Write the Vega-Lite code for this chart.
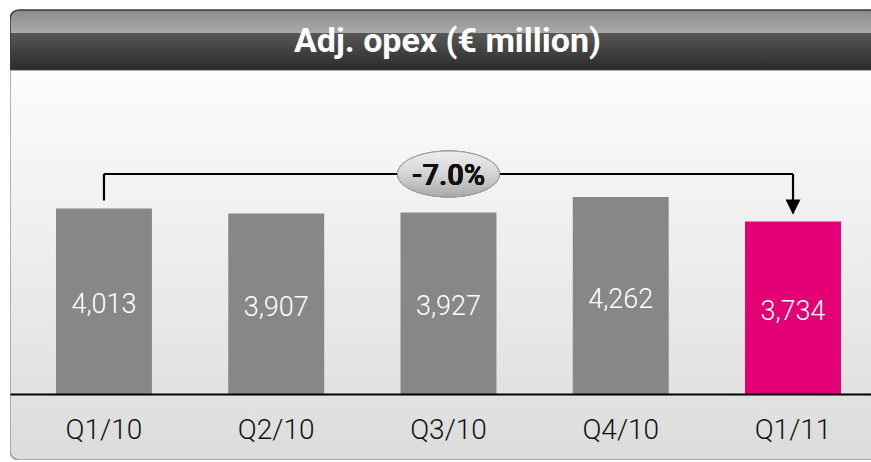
{
  "$schema": "https://vega.github.io/schema/vega-lite/v6.json",
  "background": "white",
  "padding": {"left": 10, "top": 9, "right": 0, "bottom": 2},
  "config": {"view": {"stroke": null}, "font": "Roboto"},
  "spacing": 0,
  "vconcat": [
    {
      "width": 861,
      "height": 61,
      "data": {"values": [{"title": "Adj. opex (€ million)"}]},
      "layer": [
        {
          "mark": {
            "type": "rect", "clip": true, "x2Offset": 12, "xOffset": 1, "yOffset": 1,
            "cornerRadiusTopLeft": 9, "stroke": "#3a3a3a", "strokeWidth": 1.5,
            "fill": {"gradient": "linear", "x1": 0, "y1": 0, "x2": 0, "y2": 1,
              "stops": [
                {"offset": 0, "color": "#8a8a8a"},
                {"offset": 0.38, "color": "#aaaaaa"},
                {"offset": 0.39, "color": "#575757"},
                {"offset": 1, "color": "#2b2b2b"}
              ]}
          },
          "encoding": {}
        },
        {
          "mark": {"type": "text", "color": "white", "font": "Roboto", "fontWeight": "bold", "fontSize": 34, "dx": 7, "dy": 2, "baseline": "middle", "align": "center"},
          "encoding": {"text": {"field": "title", "type": "nominal"}}
        }
      ]
    },
    {
      "width": 861,
      "height": 390,
      "data": {"values": [
        {"q": "Q1/10", "value": 4013},
        {"q": "Q2/10", "value": 3907},
        {"q": "Q3/10", "value": 3927},
        {"q": "Q4/10", "value": 4262},
        {"q": "Q1/11", "value": 3734}
      ]},
      "encoding": {
        "x": {
          "field": "q", "type": "nominal", "sort": null,
          "scale": {"paddingInner": 0.443, "paddingOuter": 0.2206, "align": 0.605},
          "axis": {
            "orient": "bottom", "offset": -66, "title": null, "ticks": false, "tickSize": 0, "zindex": 1,
            "domainColor": "#000000", "domainWidth": 2, "labelAngle": 0,
            "labelFont": "Roboto", "labelFontWeight": 300, "labelFontSize": 28, "labelColor": "#111111",
            "labelBaseline": "alphabetic", "labelPadding": 44, "grid": false
          }
        }
      },
      "resolve": {"scale": {"y": "independent"}},
      "layer": [
        {
          "data": {"values": [{}]},
          "mark": {
            "type": "rect", "clip": true, "x2Offset": 12, "xOffset": 1, "y2Offset": -1,
            "cornerRadiusBottomLeft": 9, "stroke": "#9a9a9a", "strokeWidth": 1.5,
            "fill": {"gradient": "linear", "x1": 0, "y1": 0, "x2": 0, "y2": 1,
              "stops": [
                {"offset": 0, "color": "#fcfcfc"},
                {"offset": 1, "color": "#dcdcdc"}
              ]}
          },
          "encoding": {"x": null}
        },
        {
          "encoding": {
            "y": {"field": "value", "type": "quantitative", "axis": null,
              "scale": {"domain": [-1428, 7010], "nice": false, "zero": false}}
          },
          "layer": [
            {
              "mark": {"type": "bar"},
              "encoding": {
                "y2": {"datum": 0},
                "color": {"condition": {"test": "datum.q === 'Q1/11'", "value": "#e20074"}, "value": "#878787"}
              }
            },
            {
              "transform": [{"filter": "datum.q === 'Q1/10' || datum.q === 'Q1/11'"}],
              "mark": {"type": "rule", "color": "black", "strokeWidth": 2.2, "y2Offset": -8},
              "encoding": {"y": {"datum": 4760}, "y2": {"field": "value"}}
            },
            {
              "mark": {"type": "rule", "color": "black", "strokeWidth": 2.2},
              "encoding": {"x": {"datum": "Q1/10"}, "x2": {"datum": "Q1/11"}, "y": {"datum": 4760}}
            },
            {
              "transform": [{"filter": "datum.q === 'Q1/11'"}],
              "mark": {"type": "point", "shape": "M-1,-1L1,-1L0,1Z", "size": 225, "filled": true, "color": "black", "opacity": 1, "yOffset": -14.5},
              "encoding": {}
            },
            {
              "mark": {"type": "point", "shape": "M-1,0A1,0.45,0,1,0,1,0A1,0.45,0,1,0,-1,0Z", "size": 10404, "filled": true, "opacity": 1,
                "stroke": "#9c9c9c", "strokeWidth": 1,
                "fill": {"gradient": "linear", "x1": 0, "y1": 0, "x2": 0, "y2": 1,
                  "stops": [{"offset": 0, "color": "#eeeeee"}, {"offset": 0.5, "color": "#d4d4d4"}, {"offset": 1, "color": "#a9a9a9"}]}},
              "encoding": {"x": {"datum": "Q3/10"}, "y": {"datum": 4760}}
            },
            {
              "mark": {"type": "text", "text": "-7.0%", "font": "Roboto", "fontWeight": 600, "fontSize": 29, "fill": "#111111", "stroke": null, "baseline": "middle", "align": "center", "dy": 2},
              "encoding": {"x": {"datum": "Q3/10"}, "y": {"datum": 4760}}
            }
          ]
        },
        {
          "mark": {"type": "text", "color": "white", "font": "Roboto", "fontWeight": 300, "fontSize": 27, "baseline": "middle", "align": "center", "dy": 4},
          "encoding": {
            "y": {"field": "value", "type": "quantitative", "axis": null,
              "scale": {"domain": [-2856, 14020], "nice": false, "zero": false}},
            "text": {"field": "value", "type": "quantitative", "format": ","}
          }
        }
      ]
    }
  ]
}
